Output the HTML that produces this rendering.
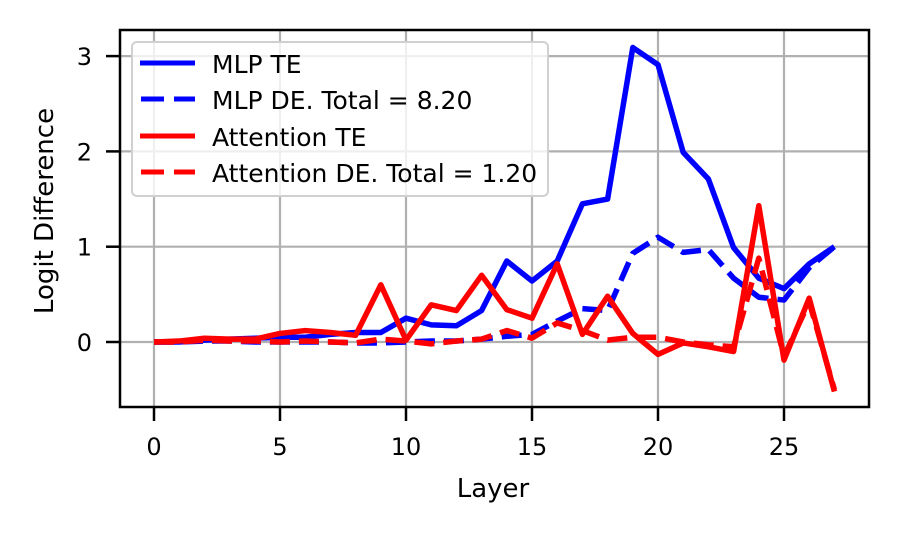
<!DOCTYPE html>
<html><head><meta charset="utf-8"><style>
body{margin:0;background:#fff}
text{font-family:"DejaVu Sans","Liberation Sans",sans-serif;fill:#000}
</style></head><body>
<svg width="898" height="535" xmlns="http://www.w3.org/2000/svg">
<g id="grid"></g>
<g id="series"></g>
<rect x="120" y="30" width="749" height="377" fill="none" stroke="#000" stroke-width="2.5"/>
<g id="ticks"></g>
<text x="493" y="497" font-size="26" text-anchor="middle">Layer</text>
<text x="53" y="211" font-size="26" text-anchor="middle" transform="rotate(-90 53 211)">Logit Difference</text>
<g>
<rect x="132" y="42" width="416" height="154" rx="5" fill="#fff" fill-opacity="0.8" stroke="#d0d0d0" stroke-width="2"/>
<line x1="140" y1="63" x2="195" y2="63" stroke="#0000ff" stroke-width="5"/>
<text x="212" y="73" font-size="25">MLP TE</text>
<line x1="141" y1="99" x2="195" y2="99" stroke="#0000ff" stroke-width="5" stroke-dasharray="23,10"/>
<text x="212" y="109" font-size="25">MLP DE. Total = 8.20</text>
<line x1="140" y1="136" x2="195" y2="136" stroke="#ff0000" stroke-width="5"/>
<text x="212" y="146" font-size="25">Attention TE</text>
<line x1="141" y1="172" x2="195" y2="172" stroke="#ff0000" stroke-width="5" stroke-dasharray="23,10"/>
<text x="212" y="182" font-size="25">Attention DE. Total = 1.20</text>
</g>
</svg>
<script>
const layers=[0,1,2,3,4,5,6,7,8,9,10,11,12,13,14,15,16,17,18,19,20,21,22,23,24,25,26,27];
const mlpTE=[0,0,0.02,0.03,0.04,0.05,0.05,0.08,0.1,0.1,0.25,0.18,0.17,0.33,0.85,0.64,0.85,1.45,1.5,3.09,2.91,1.99,1.71,0.99,0.67,0.56,0.82,1.0];
const mlpDE=[0,0,0.01,0.01,0,0,0,0,-0.01,-0.01,0,0.01,0.01,0.03,0.06,0.08,0.22,0.35,0.33,0.93,1.1,0.94,0.97,0.67,0.47,0.44,0.78,1.0];
const attnTE=[0,0.01,0.04,0.03,0.03,0.09,0.12,0.1,0.07,0.6,0.02,0.39,0.33,0.7,0.34,0.25,0.82,0.08,0.48,0.09,-0.13,-0.01,-0.05,-0.1,1.43,-0.19,0.46,-0.52];
const attnDE=[0,0,0.02,0.01,0.01,0,0.01,0,-0.01,0.03,0.01,-0.02,0.01,0.03,0.12,0.04,0.2,0.12,0.02,0.05,0.05,0,-0.03,-0.05,0.88,-0.15,0.42,-0.5];
const xTicks=[0,5,10,15,20,25];
const yTicks=[0,1,2,3];
const X=v=>154+v*25.2, Y=v=>342-v*95.3;
const NS="http://www.w3.org/2000/svg";
const grid=document.getElementById('grid'),ticks=document.getElementById('ticks'),ser=document.getElementById('series');
function mk(tag,attrs,parent){const e=document.createElementNS(NS,tag);for(const k in attrs)e.setAttribute(k,attrs[k]);parent.appendChild(e);return e;}
xTicks.forEach(t=>{
 const g=mk('line',{x1:X(t),x2:X(t),y1:30,y2:407,stroke:'#b0b0b0','stroke-width':2.2},grid);
 
 
 mk('line',{x1:X(t),x2:X(t),y1:407,y2:421,stroke:'#000','stroke-width':2.5},ticks);
 const l=mk('text',{x:X(t),y:455,'font-size':24,'text-anchor':'middle'},ticks);l.textContent=t;
 
 
});
yTicks.forEach(t=>{
 const g=mk('line',{x1:120,x2:869,y1:Y(t),y2:Y(t),stroke:'#b0b0b0','stroke-width':2.2},grid);
 
 
 mk('line',{x1:106,x2:120,y1:Y(t),y2:Y(t),stroke:'#000','stroke-width':2.5},ticks);
 const l=mk('text',{x:92,y:Y(t)+9,'font-size':24,'text-anchor':'end'},ticks);l.textContent=t;
 
 
});
function line(vals,color,dash,name){
 const p=mk('polyline',{points:vals.map((v,i)=>X(layers[i])+','+Y(v)).join(' '),fill:'none',stroke:color,'stroke-width':5.5,'stroke-linejoin':'round'},ser);
 if(dash)p.setAttribute('stroke-dasharray','20,9');
 
 
}
line(mlpTE,'#0000ff',false,'mlp-te-line');
line(mlpDE,'#0000ff',true,'mlp-de-line');
line(attnTE,'#ff0000',false,'attention-te-line');
line(attnDE,'#ff0000',true,'attention-de-line');
</script>
</body></html>
